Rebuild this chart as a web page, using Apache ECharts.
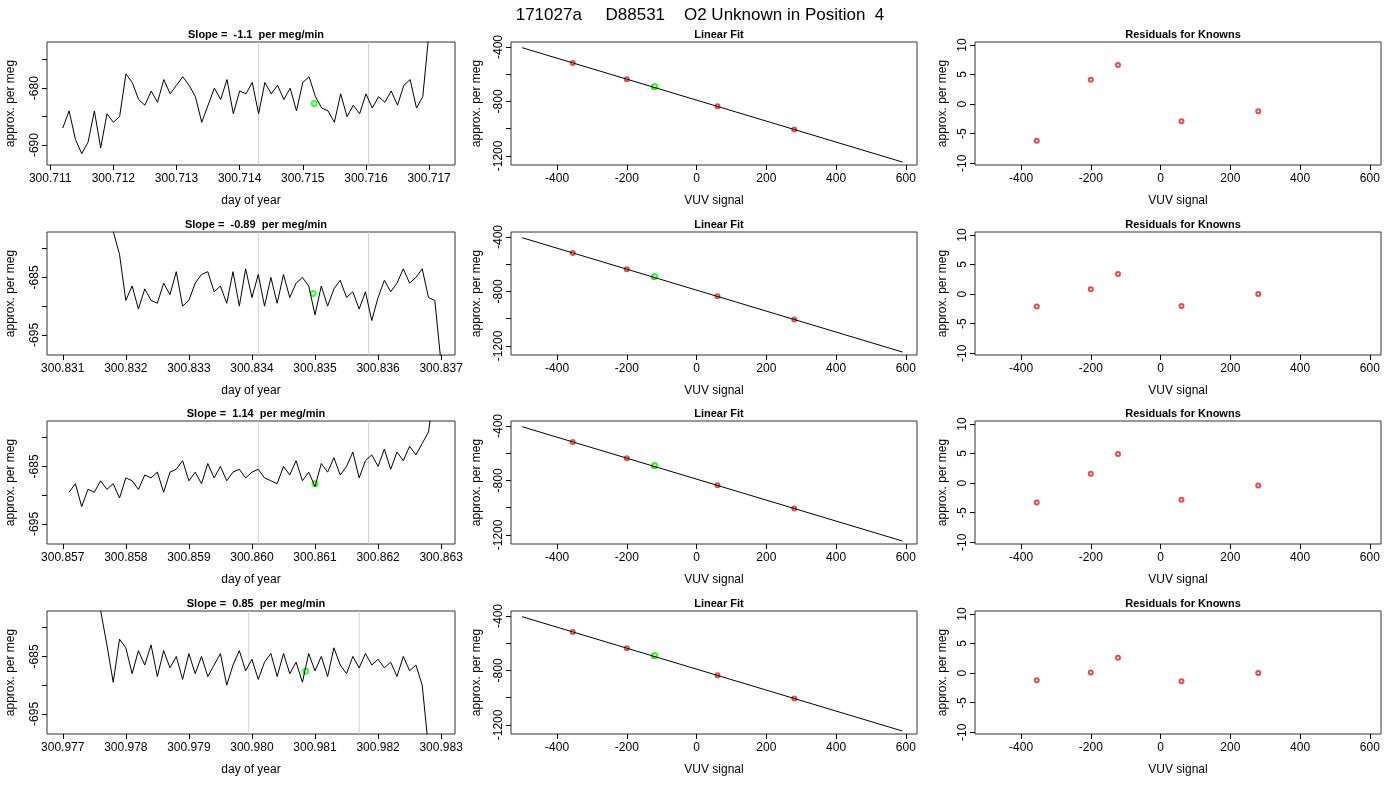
<!DOCTYPE html>
<html><head><meta charset="utf-8">
<script src="https://cdn.jsdelivr.net/npm/echarts@6/dist/echarts.min.js"></script>
<style>html,body{margin:0;background:#fff}#app{width:1400px;height:800px}</style>
</head><body><div id="app"></div>
<script>
var mainTitle = '171027a     D88531    O2 Unknown in Position  4';
var slopes = ['-1.1', '-0.89', '1.14', '0.85'];

// time series start time and sample spacing per row
var tStart = [300.7112, 300.8318, 300.8571, 300.9776];
var tStep = 0.0001;
var series1 = [-687,-684,-689,-691.5,-689.5,-684,-690.5,-684.5,-686,-685,-677.5,-679,-682,-683,-680.5,-682.5,-678.5,-681,-679.5,-678,-679.5,-681.5,-686,-683,-680,-682,-678.5,-684.5,-680.5,-681,-679,-684.5,-679,-681,-679.5,-682,-680,-684,-679,-678,-681.5,-683.5,-684,-686,-681,-685,-683,-684.5,-681,-683.5,-681.5,-682.5,-680.5,-683,-679.5,-678.5,-683.5,-681.5,-670];
var series2 = [-677,-681,-689,-686.5,-690.5,-687,-689,-689.5,-686,-688,-684,-690,-689,-686,-684.5,-684,-687.5,-686.5,-689.5,-684,-690,-683.5,-688.5,-684.5,-690,-685,-689.5,-684.5,-688.5,-686,-685,-686.5,-691.5,-686.5,-690,-687,-685.5,-688.5,-687.5,-690.5,-687.5,-692.5,-688.5,-685.5,-687.5,-686,-683.5,-686,-685,-683.5,-688.5,-689,-700];
var series3 = [-689.5,-688,-692,-689,-689.5,-687.5,-689,-688,-690.5,-687,-687.5,-689,-686.5,-687,-686,-689.5,-686,-685.5,-684,-687.5,-686,-688,-684.5,-687,-685,-687.5,-686,-685.5,-687,-686,-685.5,-687,-687.5,-688,-685,-686.5,-684,-687.5,-686,-688.5,-684.5,-686,-683.5,-686.5,-685,-682.5,-687,-684,-683,-685,-682,-685.5,-682.5,-684,-681.5,-683,-681,-679,-671];
var series4 = [-677,-683,-689.5,-682,-683.5,-688,-684,-686.5,-683,-688.5,-684,-687,-685,-689,-684.5,-688,-685,-688.5,-686.5,-684.5,-690,-686.5,-684,-687.5,-685.5,-689,-686,-684.5,-688.5,-684.5,-688,-686,-689.5,-684.5,-687.5,-685,-688.5,-683.5,-686.5,-688,-685,-687,-684.5,-686.5,-685.5,-687,-686,-688.5,-685,-687.5,-686.5,-690,-701];
var timeSeries = [series1, series2, series3, series4];

var xMin = [300.71095, 300.83075, 300.85675, 300.97675];
var xMax = [300.71741, 300.83722, 300.86322, 300.98322];
var xTicks = [
  [300.711,300.712,300.713,300.714,300.715,300.716,300.717],
  [300.831,300.832,300.833,300.834,300.835,300.836,300.837],
  [300.857,300.858,300.859,300.860,300.861,300.862,300.863],
  [300.977,300.978,300.979,300.980,300.981,300.982,300.983]
];
var yMin = [-693.5, -698.5, -698.5, -698.5];
var yMax = [-671.9, -677.1, -677.1, -677.1];
var yTicks = [[-690,-685,-680,-675],[-695,-690,-685,-680],[-695,-690,-685,-680],[-695,-690,-685,-680]];
var yLabels = [[-690,-680],[-695,-685],[-695,-685],[-695,-685]];
var grayLines = [[300.71430,300.71604],[300.83410,300.83585],[300.86010,300.86185],[300.97995,300.98170]];
var greenPts = [[300.71518,-682.7],[300.83497,-687.8],[300.86100,-688],[300.98085,-687.6]];

// linear fit panels
var knownX = [-355, -200, -122, 60, 280];
var knownY = [-517, -636, -694, -836, -1006];
var unknownPt = [-120, -690];
var fitLine = [[-500, -405], [590, -1245]];
var residuals = [
  [-6.2, 4.1, 6.6, -2.9, -1.2],
  [-2.1, 0.8, 3.4, -2.0, 0.0],
  [-3.3, 1.6, 4.9, -2.8, -0.4],
  [-1.2, 0.1, 2.6, -1.4, 0.0]
];

var font = 'Liberation Sans, Arial, sans-serif';
var rowTop = [42, 232, 421, 611];
var plotH = 123;
var cols = [[47, 455], [511, 917], [975, 1381]];

var grids = [], xAxes = [], yAxes = [], series = [], titles = [];
titles.push({text: mainTitle, left: 'center', top: 2, textStyle: {fontFamily: font, fontSize: 17, fontWeight: 'normal', color: '#000'}});

function addPanel(col, row, title, xa, ya) {
  var idx = grids.length;
  grids.push({left: cols[col][0], width: cols[col][1] - cols[col][0], top: rowTop[row], height: plotH,
    show: true, borderColor: '#333', borderWidth: 1, backgroundColor: 'transparent'});
  titles.push({text: title, left: (cols[col][0] + cols[col][1]) / 2, textAlign: 'center', top: rowTop[row] - 18,
    textStyle: {fontFamily: font, fontSize: 11, fontWeight: 'bold', color: '#000'}});
  var lab = {fontFamily: font, fontSize: 12, color: '#000'};
  xAxes.push(Object.assign({type: 'value', gridIndex: idx, splitLine: {show: false}, axisLine: {show: false, onZero: false},
    axisTick: {show: true, length: 5, lineStyle: {color: '#000'}, customValues: xa.ticks},
    axisLabel: Object.assign({margin: 8, customValues: xa.ticks, formatter: xa.fmt || function (v) { return String(v); }}, lab),
    nameLocation: 'middle', nameGap: 30, nameTextStyle: lab}, xa.opt));
  yAxes.push(Object.assign({type: 'value', gridIndex: idx, splitLine: {show: false}, axisLine: {show: false, onZero: false},
    axisTick: {show: true, length: 5, lineStyle: {color: '#000'}, customValues: ya.ticks},
    axisLabel: Object.assign({margin: 6, rotate: 90, customValues: ya.labels, formatter: function (v) { return String(v); }}, lab),
    nameLocation: 'middle', nameGap: 24, nameTextStyle: lab}, ya.opt));
  return idx;
}

for (var r = 0; r < 4; r++) {
  // time series panel
  var i0 = addPanel(0, r, 'Slope =  ' + slopes[r] + '  per meg/min',
    {ticks: xTicks[r], fmt: function (v) { return v.toFixed(3); }, opt: {min: xMin[r], max: xMax[r], name: 'day of year'}},
    {ticks: yTicks[r], labels: yLabels[r], opt: {min: yMin[r], max: yMax[r], name: 'approx. per meg', nameGap: 30}});
  grayLines[r].forEach(function (x) {
    series.push({type: 'line', xAxisIndex: i0, yAxisIndex: i0, data: [[x, yMin[r]], [x, yMax[r]]], showSymbol: false,
      lineStyle: {color: '#d0d0d0', width: 1}, silent: true});
  });
  var pts = timeSeries[r].map(function (v, k) { return [tStart[r] + k * tStep, v]; });
  series.push({type: 'line', xAxisIndex: i0, yAxisIndex: i0, data: pts, showSymbol: false,
    lineStyle: {color: '#000', width: 1}, clip: true});
  series.push({type: 'scatter', xAxisIndex: i0, yAxisIndex: i0, data: [greenPts[r]], symbol: 'emptyCircle', symbolSize: 5,
    itemStyle: {color: '#0f0', borderColor: '#0f0', borderWidth: 1}});

  // linear fit panel
  var i1 = addPanel(1, r, 'Linear Fit',
    {ticks: [-400, -200, 0, 200, 400, 600], opt: {min: -532, max: 632, name: 'VUV signal'}},
    {ticks: [-1200, -1000, -800, -600, -400], labels: [-1200, -800, -400], opt: {min: -1267, max: -363, name: 'approx. per meg', nameGap: 28}});
  series.push({type: 'line', xAxisIndex: i1, yAxisIndex: i1, data: fitLine, showSymbol: false, lineStyle: {color: '#000', width: 1}});
  series.push({type: 'scatter', xAxisIndex: i1, yAxisIndex: i1, data: knownX.map(function (x, k) { return [x, knownY[k]]; }),
    symbol: 'emptyCircle', symbolSize: 4, itemStyle: {color: '#d22', borderColor: '#d22', borderWidth: 0.8}});
  series.push({type: 'scatter', xAxisIndex: i1, yAxisIndex: i1, data: [unknownPt], symbol: 'emptyCircle', symbolSize: 5,
    itemStyle: {color: '#0f0', borderColor: '#0f0', borderWidth: 1}});

  // residuals panel
  var i2 = addPanel(2, r, 'Residuals for Knowns',
    {ticks: [-400, -200, 0, 200, 400, 600], opt: {min: -532, max: 632, name: 'VUV signal'}},
    {ticks: [-10, -5, 0, 5, 10], labels: [-10, -5, 0, 5, 10], opt: {min: -10.3, max: 10.5, name: 'approx. per meg', nameGap: 26}});
  series.push({type: 'scatter', xAxisIndex: i2, yAxisIndex: i2, data: knownX.map(function (x, k) { return [x, residuals[r][k]]; }),
    symbol: 'emptyCircle', symbolSize: 4, itemStyle: {color: '#d22', borderColor: '#d22', borderWidth: 0.8}});
}

var chart = echarts.init(document.getElementById('app'));
chart.setOption({
  backgroundColor: '#fff',
  animation: false,
  title: titles,
  grid: grids,
  xAxis: xAxes,
  yAxis: yAxes,
  series: series
});
</script></body></html>
